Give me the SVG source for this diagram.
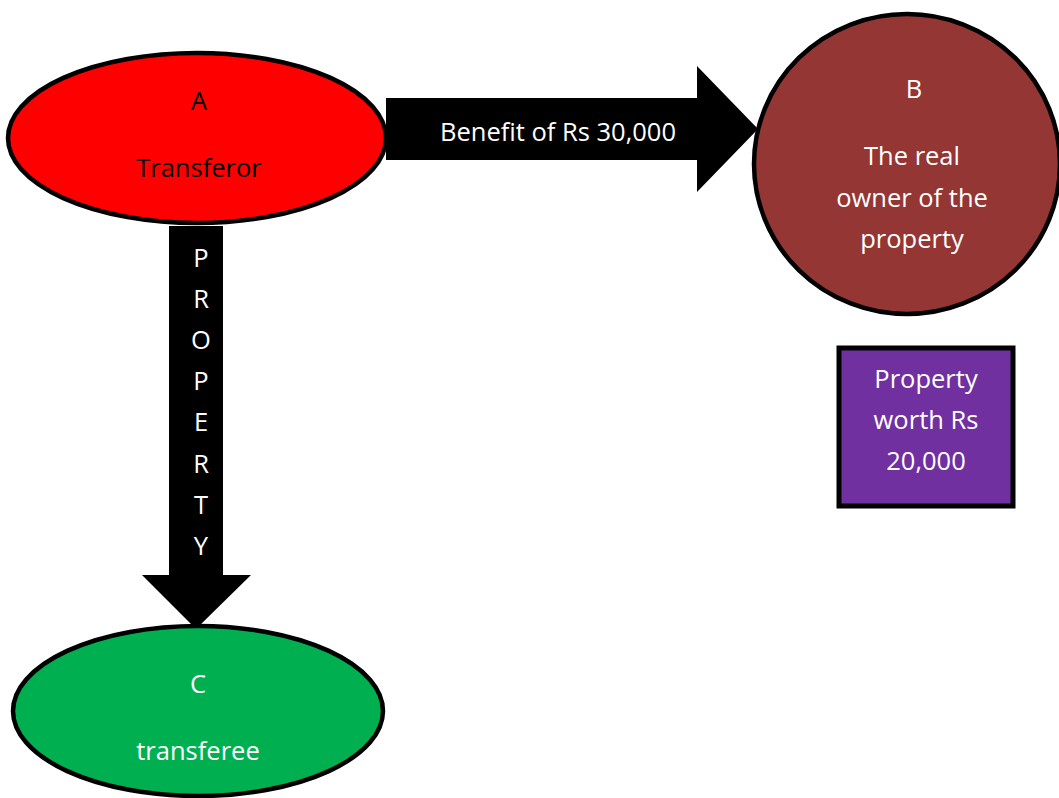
<svg xmlns="http://www.w3.org/2000/svg" width="1059" height="798" viewBox="0 0 1059 798">
<style>
text{font-family:"Open Sans","Liberation Sans",sans-serif;font-size:25.5px;text-anchor:middle}
.w{fill:#fff}.k{fill:#000}
.sh{stroke:#000;stroke-width:4.5}
</style>
<rect width="1059" height="798" fill="#fff"/>
<g id="connectors">
<g id="arrow-benefit">
<polygon points="386,98 697,98 697,66 758,129 697,192 697,160 386,160" fill="#000"/>
<text class="w" x="558" y="141">Benefit of Rs 30,000</text>
</g>
<g id="arrow-property">
<polygon points="169,226 223,226 223,575 251,575 196,629 142,575 169,575" fill="#000"/>
<text class="w" x="201" y="267">P</text>
<text class="w" x="201" y="308">R</text>
<text class="w" x="201" y="349">O</text>
<text class="w" x="201" y="390">P</text>
<text class="w" x="201" y="431">E</text>
<text class="w" x="201" y="473">R</text>
<text class="w" x="201" y="514">T</text>
<text class="w" x="201" y="555">Y</text>
</g>
</g>
<g id="node-a">
<ellipse cx="197" cy="138" rx="189" ry="85" fill="#ff0000" class="sh"/>
<text class="k" x="199" y="110">A</text>
<text class="k" x="199" y="177">Transferor</text>
</g>
<g id="node-b">
<ellipse cx="907" cy="164" rx="153" ry="150" fill="#943634" class="sh"/>
<text class="w" x="914" y="98">B</text>
<text class="w" x="912" y="165">The real</text>
<text class="w" x="912" y="207">owner of the</text>
<text class="w" x="912" y="248">property</text>
</g>
<g id="node-c">
<ellipse cx="198" cy="711" rx="185" ry="85" fill="#00b050" class="sh"/>
<text class="w" x="198" y="693">C</text>
<text class="w" x="198" y="760">transferee</text>
</g>
<g id="node-worth">
<rect x="839" y="348" width="174" height="158" fill="#7030a0" stroke="#000" stroke-width="5"/>
<text class="w" x="926" y="388">Property</text>
<text class="w" x="926" y="429">worth Rs</text>
<text class="w" x="926" y="470">20,000</text>
</g>
</svg>
